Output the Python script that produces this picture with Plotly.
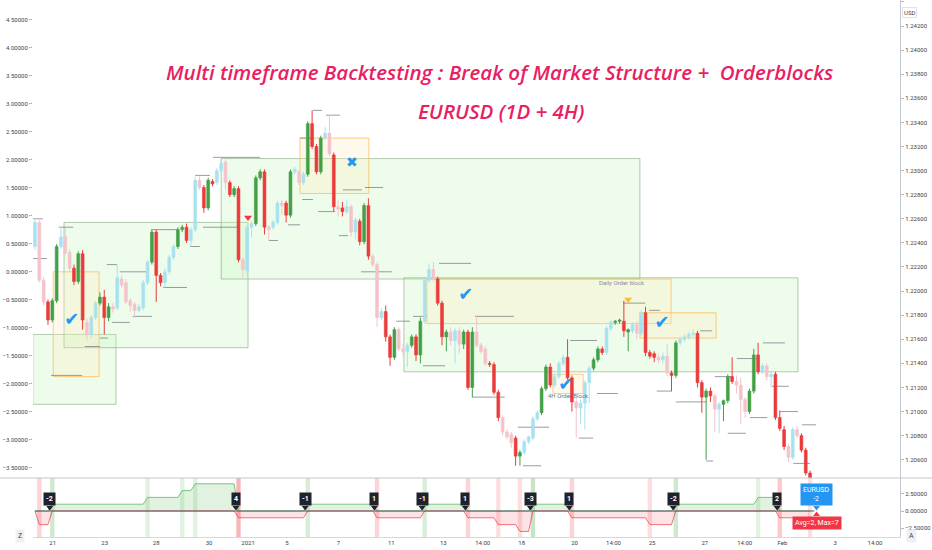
import plotly.graph_objects as go

# 4H EURUSD candles, bar index 0..179
opens = [
    1.2237, 1.2257, 1.2209, 1.2191, 1.2176, 1.2192, 1.2237, 1.2245, 1.2232, 1.2219,
    1.2208, 1.2231, 1.2174, 1.2164, 1.2178, 1.2190, 1.2195, 1.2178, 1.2187, 1.2186,
    1.2210, 1.2207, 1.2192, 1.2189, 1.2184, 1.2186, 1.2207, 1.2224, 1.2249, 1.2213,
    1.2207, 1.2216, 1.2228, 1.2237, 1.2251, 1.2253, 1.2242, 1.2251, 1.2292, 1.2286,
    1.2269, 1.2291, 1.2290, 1.2300, 1.2307, 1.2290, 1.2280, 1.2285, 1.2226, 1.2217,
    1.2253, 1.2256, 1.2294, 1.2299, 1.2253, 1.2253, 1.2257, 1.2273, 1.2273, 1.2263,
    1.2299, 1.2299, 1.2290, 1.2297, 1.2339, 1.2320, 1.2299, 1.2327, 1.2331, 1.2313,
    1.2270, 1.2269, 1.2266, 1.2270, 1.2249, 1.2258, 1.2241, 1.2271, 1.2229, 1.2222,
    1.2178, 1.2183, 1.2162, 1.2145, 1.2168, 1.2152, 1.2150, 1.2155, 1.2162, 1.2147,
    1.2175, 1.2209, 1.2218, 1.2210, 1.2190, 1.2162, 1.2166, 1.2159, 1.2167, 1.2156,
    1.2166, 1.2120, 1.2166, 1.2155, 1.2152, 1.2140, 1.2139, 1.2116, 1.2095, 1.2083,
    1.2081, 1.2078, 1.2063, 1.2066, 1.2075, 1.2078, 1.2094, 1.2099, 1.2119, 1.2137,
    1.2122, 1.2129, 1.2140, 1.2145, 1.2128, 1.2108, 1.2103, 1.2107, 1.2124, 1.2136,
    1.2143, 1.2152, 1.2149, 1.2169, 1.2174, 1.2175, 1.2175, 1.2166, 1.2167, 1.2172,
    1.2165, 1.2182, 1.2149, 1.2148, 1.2145, 1.2143, 1.2146, 1.2132, 1.2130, 1.2157,
    1.2160, 1.2162, 1.2164, 1.2165, 1.2124, 1.2112, 1.2117, 1.2113, 1.2102, 1.2106,
    1.2109, 1.2129, 1.2125, 1.2122, 1.2110, 1.2100, 1.2117, 1.2147, 1.2133, 1.2138,
    1.2129, 1.2131, 1.2095, 1.2085, 1.2071, 1.2062, 1.2085, 1.2080, 1.2068, 1.2049,
]
highs = [
    1.2259, 1.2259, 1.2212, 1.2193, 1.2194, 1.2239, 1.2253, 1.2252, 1.2235, 1.2222,
    1.2233, 1.2234, 1.2177, 1.2180, 1.2192, 1.2199, 1.2201, 1.2190, 1.2190, 1.2222,
    1.2213, 1.2210, 1.2194, 1.2191, 1.2189, 1.2209, 1.2226, 1.2251, 1.2251, 1.2215,
    1.2219, 1.2230, 1.2239, 1.2253, 1.2255, 1.2256, 1.2253, 1.2295, 1.2295, 1.2288,
    1.2294, 1.2293, 1.2302, 1.2310, 1.2309, 1.2292, 1.2287, 1.2287, 1.2228, 1.2255,
    1.2258, 1.2296, 1.2301, 1.2301, 1.2255, 1.2259, 1.2275, 1.2276, 1.2275, 1.2301,
    1.2303, 1.2301, 1.2299, 1.2341, 1.2350, 1.2322, 1.2329, 1.2336, 1.2346, 1.2315,
    1.2276, 1.2274, 1.2276, 1.2272, 1.2261, 1.2260, 1.2273, 1.2277, 1.2231, 1.2224,
    1.2186, 1.2188, 1.2164, 1.2170, 1.2170, 1.2156, 1.2157, 1.2164, 1.2164, 1.2178,
    1.2211, 1.2223, 1.2224, 1.2212, 1.2192, 1.2168, 1.2170, 1.2169, 1.2170, 1.2168,
    1.2168, 1.2170, 1.2180, 1.2157, 1.2154, 1.2142, 1.2141, 1.2118, 1.2097, 1.2085,
    1.2083, 1.2080, 1.2068, 1.2077, 1.2080, 1.2096, 1.2101, 1.2121, 1.2139, 1.2140,
    1.2131, 1.2142, 1.2147, 1.2160, 1.2130, 1.2111, 1.2110, 1.2126, 1.2138, 1.2145,
    1.2154, 1.2154, 1.2171, 1.2176, 1.2176, 1.2177, 1.2192, 1.2169, 1.2174, 1.2175,
    1.2184, 1.2187, 1.2151, 1.2150, 1.2148, 1.2149, 1.2156, 1.2134, 1.2159, 1.2162,
    1.2164, 1.2166, 1.2168, 1.2167, 1.2126, 1.2119, 1.2120, 1.2115, 1.2108, 1.2110,
    1.2131, 1.2145, 1.2130, 1.2128, 1.2112, 1.2119, 1.2152, 1.2157, 1.2140, 1.2140,
    1.2133, 1.2133, 1.2101, 1.2088, 1.2073, 1.2087, 1.2088, 1.2082, 1.2070, 1.2051,
]
lows = [
    1.2234, 1.2207, 1.2188, 1.2172, 1.2174, 1.2190, 1.2235, 1.2230, 1.2216, 1.2205,
    1.2206, 1.2168, 1.2159, 1.2161, 1.2176, 1.2188, 1.2164, 1.2175, 1.2182, 1.2184,
    1.2203, 1.2189, 1.2183, 1.2178, 1.2182, 1.2184, 1.2205, 1.2222, 1.2191, 1.2204,
    1.2203, 1.2214, 1.2226, 1.2235, 1.2249, 1.2240, 1.2237, 1.2249, 1.2284, 1.2265,
    1.2267, 1.2287, 1.2288, 1.2298, 1.2284, 1.2278, 1.2278, 1.2224, 1.2211, 1.2212,
    1.2245, 1.2254, 1.2292, 1.2247, 1.2242, 1.2251, 1.2255, 1.2263, 1.2257, 1.2261,
    1.2297, 1.2288, 1.2288, 1.2295, 1.2318, 1.2297, 1.2297, 1.2325, 1.2312, 1.2266,
    1.2262, 1.2262, 1.2264, 1.2245, 1.2243, 1.2238, 1.2239, 1.2226, 1.2220, 1.2170,
    1.2176, 1.2158, 1.2138, 1.2143, 1.2150, 1.2146, 1.2137, 1.2153, 1.2142, 1.2140,
    1.2173, 1.2207, 1.2208, 1.2188, 1.2155, 1.2150, 1.2155, 1.2140, 1.2148, 1.2152,
    1.2118, 1.2112, 1.2153, 1.2148, 1.2138, 1.2137, 1.2114, 1.2092, 1.2080, 1.2077,
    1.2070, 1.2055, 1.2055, 1.2064, 1.2073, 1.2076, 1.2092, 1.2097, 1.2117, 1.2120,
    1.2120, 1.2127, 1.2138, 1.2126, 1.2100, 1.2078, 1.2090, 1.2085, 1.2107, 1.2134,
    1.2141, 1.2147, 1.2147, 1.2167, 1.2172, 1.2173, 1.2162, 1.2150, 1.2165, 1.2160,
    1.2163, 1.2146, 1.2144, 1.2141, 1.2140, 1.2140, 1.2129, 1.2117, 1.2128, 1.2155,
    1.2158, 1.2160, 1.2162, 1.2120, 1.2099, 1.2060, 1.2108, 1.2083, 1.2082, 1.2092,
    1.2107, 1.2123, 1.2115, 1.2090, 1.2095, 1.2098, 1.2115, 1.2131, 1.2131, 1.2126,
    1.2120, 1.2093, 1.2084, 1.2068, 1.2058, 1.2060, 1.2078, 1.2066, 1.2047, 1.2042,
]
closes = [
    1.2257, 1.2209, 1.2191, 1.2176, 1.2192, 1.2237, 1.2245, 1.2232, 1.2219, 1.2208,
    1.2231, 1.2176, 1.2164, 1.2178, 1.2190, 1.2195, 1.2178, 1.2187, 1.2185, 1.2211,
    1.2205, 1.2191, 1.2188, 1.2184, 1.2187, 1.2207, 1.2224, 1.2249, 1.2213, 1.2207,
    1.2216, 1.2228, 1.2237, 1.2251, 1.2253, 1.2242, 1.2251, 1.2292, 1.2286, 1.2269,
    1.2292, 1.2289, 1.2300, 1.2306, 1.2290, 1.2280, 1.2285, 1.2226, 1.2218, 1.2253,
    1.2256, 1.2294, 1.2299, 1.2253, 1.2251, 1.2257, 1.2273, 1.2271, 1.2263, 1.2299,
    1.2301, 1.2290, 1.2297, 1.2339, 1.2320, 1.2299, 1.2327, 1.2331, 1.2314, 1.2270,
    1.2268, 1.2266, 1.2270, 1.2249, 1.2259, 1.2241, 1.2271, 1.2229, 1.2222, 1.2178,
    1.2183, 1.2162, 1.2145, 1.2168, 1.2152, 1.2150, 1.2155, 1.2162, 1.2147, 1.2175,
    1.2209, 1.2218, 1.2210, 1.2190, 1.2162, 1.2166, 1.2159, 1.2167, 1.2156, 1.2166,
    1.2120, 1.2166, 1.2155, 1.2150, 1.2140, 1.2139, 1.2116, 1.2095, 1.2083, 1.2079,
    1.2074, 1.2063, 1.2066, 1.2075, 1.2079, 1.2094, 1.2099, 1.2119, 1.2137, 1.2122,
    1.2129, 1.2140, 1.2145, 1.2128, 1.2108, 1.2103, 1.2107, 1.2124, 1.2136, 1.2143,
    1.2152, 1.2149, 1.2169, 1.2174, 1.2175, 1.2176, 1.2167, 1.2168, 1.2172, 1.2165,
    1.2182, 1.2149, 1.2146, 1.2145, 1.2143, 1.2146, 1.2132, 1.2130, 1.2157, 1.2160,
    1.2162, 1.2164, 1.2165, 1.2124, 1.2112, 1.2117, 1.2113, 1.2102, 1.2106, 1.2109,
    1.2129, 1.2125, 1.2122, 1.2110, 1.2100, 1.2117, 1.2147, 1.2133, 1.2138, 1.2129,
    1.2131, 1.2095, 1.2086, 1.2071, 1.2062, 1.2085, 1.2080, 1.2068, 1.2049, 1.2045,
]
# S = strong (trend) candle, W = weak candle
strength = list(
    "WWWSSSWWWS" "SSWWWSSSWW" "WWWWWWWSSS" "WWWSSSWWWS" "SSWWWSSSWW"
    "WSSSWWWWSS" "WWWSSSSWWS" "WSWWWSSSWW" "WSSSWWWSSS" "WWWSSSWWWS"
    "SSWWWSSSWW" "WSSWWWWSSS" "WWWSSWWWWS" "SSWWSSSSWW" "WSSSWWWSSW"
    "WWWSSSSWWS" "SSWWWSSSWW" "WSSSWWWSSS"
)

# market structure count (value, number of bars)
structure_runs = [
    (0, 1), (-2, 3), (1, 22), (2, 8), (3, 3), (4, 10), (-1, 16), (1, 16), (-1, 11),
    (1, 10), (-1, 7), (-2, 5), (-3, 3), (1, 9), (-1, 18), (-2, 6), (1, 19), (2, 5),
    (-1, 7), (-2, 1),
]

# order blocks: (first bar, last bar, top, bottom)
green_blocks = [
    (-0.5, 18.7, 1.2164, 1.2106),
    (6.7, 49.2, 1.2257, 1.2153),
    (43.0, 139.7, 1.2310, 1.2210),
    (85.2, 176.2, 1.2211, 1.2133),
]
orange_blocks = [
    (4.2, 14.8, 1.2216, 1.2129),
    (61.2, 77.1, 1.2327, 1.2281),
    (90.5, 146.9, 1.2210, 1.2173),
    (139.7, 157.3, 1.2182, 1.2161),
    (119.6, 126.6, 1.2131, 1.2115),
]

# swing levels: (first bar, last bar, price)
swing_levels = [
    (-0.5, 1.8, 1.2260), (-0.5, 2.8, 1.2227), (5.5, 8.8, 1.2253), (3.7, 10.9, 1.2130),
    (11.5, 15.0, 1.2154), (15.0, 16.9, 1.2161), (16.6, 18.9, 1.2222), (19.6, 25.9, 1.2216),
    (17.8, 21.9, 1.2174), (22.6, 27.0, 1.2179), (26.8, 32.8, 1.2251), (29.6, 35.1, 1.2203),
    (35.8, 38.1, 1.2237), (37.0, 40.4, 1.2296), (38.8, 46.7, 1.2253), (41.1, 52.0, 1.2311),
    (54.0, 56.1, 1.2242), (58.4, 61.2, 1.2255), (65.4, 69.3, 1.2266), (64.2, 66.3, 1.2350),
    (67.2, 70.4, 1.2346), (61.2, 64.0, 1.2327), (61.7, 64.2, 1.2276), (71.1, 75.5, 1.2284),
    (76.2, 80.4, 1.2286), (70.2, 72.3, 1.2246), (75.3, 82.4, 1.2216), (83.4, 86.6, 1.2175),
    (87.3, 90.5, 1.2179), (89.6, 94.7, 1.2138), (93.3, 100.7, 1.2223), (101.6, 110.6, 1.2179),
    (100.9, 108.5, 1.2112), (111.5, 118.7, 1.2087), (112.7, 116.9, 1.2055), (123.6, 129.8, 1.2159),
    (125.6, 128.9, 1.2078), (129.8, 134.6, 1.2115), (135.8, 140.9, 1.2190), (141.8, 144.3, 1.2184),
    (143.6, 147.1, 1.2117), (148.0, 155.2, 1.2108), (153.6, 156.4, 1.2167), (157.0, 161.2, 1.2129),
    (162.1, 166.7, 1.2144), (168.1, 173.2, 1.2157), (160.0, 164.2, 1.2082), (165.1, 169.1, 1.2095),
    (170.2, 174.1, 1.2121), (172.1, 176.2, 1.2100), (177.1, 180.4, 1.2089), (175.1, 179.0, 1.2057),
    (155.0, 156.6, 1.2059),
]

win_bars = [8.5, 99.5, 122.6, 144.8]
win_prices = [1.2176, 1.2196, 1.2122, 1.2173]
loss_bars = [73.2]
loss_prices = [1.2306]

tick_bars = [4.1, 16.1, 28.0, 40.2, 49.2, 58.2, 70.1, 82.3, 94.3, 103.4,
             112.4, 124.6, 133.6, 142.5, 154.7, 163.9, 172.6, 184.8, 194.0]
tick_text = ["21", "23", "28", "30", "2021", "5", "7", "11", "13", "14:00",
             "18", "20", "14:00", "25", "27", "14:00", "Feb", "3", "14:00"]
price_ticks = [1.206, 1.208, 1.210, 1.212, 1.214, 1.216, 1.218, 1.220, 1.222, 1.224,
               1.226, 1.228, 1.230, 1.232, 1.234, 1.236, 1.238, 1.240, 1.242, 1.244]
left_ticks = [-3.5, -3.0, -2.5, -2.0, -1.5, -1.0, -0.5, 0.0, 0.5, 1.0,
              1.5, 2.0, 2.5, 3.0, 3.5, 4.0, 4.5]

N = len(closes)
bars = list(range(N))
structure = []
for value, count in structure_runs:
    structure += [value] * count

AXIS_FONT = dict(family="Roboto", size=6, color="#3c3f48")
fig = go.Figure()

# candles: bodies as bars, wicks as lines
colours = {
    ("S", True): "#43A047",
    ("S", False): "#EB3B3B",
    ("W", True): "#A8E2EE",
    ("W", False): "#F4C3CB",
}
for (kind, rising), colour in colours.items():
    idx = [i for i in bars if strength[i] == kind and (closes[i] >= opens[i]) == rising]
    wx, wy = [], []
    for i in idx:
        wx += [i, i, None]
        wy += [lows[i], highs[i], None]
    fig.add_scatter(x=wx, y=wy, mode="lines", line=dict(color=colour, width=1),
                    hoverinfo="skip", showlegend=False)
    fig.add_bar(x=idx, y=[closes[i] - opens[i] for i in idx], base=[opens[i] for i in idx],
                width=0.66, marker=dict(color=colour, line=dict(color=colour, width=0.6)),
                showlegend=False)

# left overlay scale (indicator on price pane)
fig.add_scatter(x=[0], y=[0], yaxis="y2", mode="markers", marker=dict(opacity=0),
                hoverinfo="skip", showlegend=False)

for x0, x1, top, bottom in green_blocks:
    fig.add_shape(type="rect", xref="x", yref="y", x0=x0, x1=x1, y0=bottom, y1=top,
                  fillcolor="rgba(200,244,190,0.3)",
                  line=dict(color="rgba(128,168,124,0.6)", width=1), layer="below")
for x0, x1, top, bottom in orange_blocks:
    fig.add_shape(type="rect", xref="x", yref="y", x0=x0, x1=x1, y0=bottom, y1=top,
                  fillcolor="rgba(255,232,190,0.28)",
                  line=dict(color="rgba(255,183,77,0.7)", width=1), layer="below")
for x0, x1, level in swing_levels:
    fig.add_shape(type="line", xref="x", yref="y", x0=x0, x1=x1, y0=level, y1=level,
                  line=dict(color="rgba(110,114,125,0.7)", width=1), layer="below")

fig.add_scatter(x=win_bars, y=win_prices, mode="text", text=["✔"] * len(win_bars),
                textfont=dict(family="DejaVu Sans", size=18, color="#2196F3"),
                hoverinfo="skip", showlegend=False)
fig.add_scatter(x=loss_bars, y=loss_prices, mode="text", text=["✖"] * len(loss_bars),
                textfont=dict(family="DejaVu Sans", size=14, color="#2196F3"),
                hoverinfo="skip", showlegend=False)
fig.add_scatter(x=[49.2], y=[1.2261], mode="markers",
                marker=dict(symbol="triangle-down", size=7, color="#F23645"),
                hoverinfo="skip", showlegend=False)
fig.add_scatter(x=[137.0], y=[1.2193], mode="markers",
                marker=dict(symbol="triangle-down", size=7, color="#FBC02D"),
                hoverinfo="skip", showlegend=False)
fig.add_annotation(x=135.6, y=1.2207, text="Daily Order block", showarrow=False,
                   font=dict(family="Roboto", size=6, color="#8a8d96"))
fig.add_annotation(x=123.1, y=1.2113, text="4H Order Block", showarrow=False,
                   font=dict(family="Roboto", size=6, color="#6f727b"))

# lower pane: structure count, event bands shaded by size of the change
changes = [i for i in bars[1:] if structure[i] != structure[i - 1]]
for i in changes:
    step = structure[i] - structure[i - 1]
    alpha = min(0.12 + 0.05 * abs(step), 0.4)
    colour = f"rgba(76,175,80,{alpha:.2f})" if step > 0 else f"rgba(242,54,69,{alpha:.2f})"
    fig.add_shape(type="rect", xref="x2", yref="y3 domain", x0=i - 0.5, x1=i + 0.5, y0=0, y1=1,
                  fillcolor=colour, line=dict(width=0), layer="below")

fig.add_scatter(x=bars, y=[max(v, 0) for v in structure], xaxis="x2", yaxis="y3",
                mode="lines", line=dict(color="rgba(76,175,80,0.7)", width=1),
                fill="tozeroy", fillcolor="rgba(76,175,80,0.17)",
                hoverinfo="skip", showlegend=False)
fig.add_scatter(x=bars, y=[min(v, 0) for v in structure], xaxis="x2", yaxis="y3",
                mode="lines", line=dict(color="rgba(242,54,69,0.7)", width=1),
                fill="tozeroy", fillcolor="rgba(242,54,69,0.14)",
                hoverinfo="skip", showlegend=False)
fig.add_scatter(x=[bars[0], bars[-1] + 1], y=[0, 0], xaxis="x2", yaxis="y3", mode="lines",
                line=dict(color="#55585f", width=1), hoverinfo="skip", showlegend=False)

flips = [i for i in changes if structure[i - 1] != 0 and (structure[i] > 0) != (structure[i - 1] > 0)]
fig.add_scatter(x=[i - 0.6 for i in flips], y=[0.5] * len(flips), xaxis="x2", yaxis="y3",
                mode="markers", marker=dict(symbol="triangle-down", size=6, color="#1F222B"),
                hoverinfo="skip", showlegend=False)
for i in flips:
    fig.add_annotation(xref="x2", yref="y3", x=i - 0.6, y=0, yanchor="bottom", yshift=5,
                       text=f"<b>{structure[i - 1]}</b>", showarrow=False, bgcolor="#1F222B",
                       borderpad=2, font=dict(family="Roboto", size=7, color="white"))

last_x = bars[-1] + 1.5
fig.add_scatter(x=[last_x, last_x], y=[0.5, -0.5], xaxis="x2", yaxis="y3", mode="markers",
                marker=dict(symbol=["triangle-down", "triangle-up"], size=6,
                            color=["#2196F3", "#F23645"]),
                hoverinfo="skip", showlegend=False)
fig.add_annotation(xref="x2", yref="y3", x=last_x, y=0, yanchor="bottom", yshift=5,
                   text=f"EURUSD<br>{structure[-1]}", showarrow=False, bgcolor="#2196F3",
                   borderpad=2, font=dict(family="Roboto", size=7, color="white"))
fig.add_annotation(xref="x2", yref="y3", x=last_x, y=0, yanchor="top", yshift=-5,
                   text="Avg=2, Max=7", showarrow=False, bgcolor="#F23645",
                   borderpad=2, font=dict(family="Roboto", size=7, color="white"))

# titles
TITLE_FONT = dict(family="Open Sans", size=20.5, color="#E91E63", style="italic", weight=600)
fig.add_annotation(xref="paper", yref="paper", x=0.5375, y=0.8957, showarrow=False,
                   text="Multi timeframe Backtesting : Break of Market Structure +\u00a0 Orderblocks",
                   font=TITLE_FONT)
fig.add_annotation(xref="paper", yref="paper", x=0.5398, y=0.8231, showarrow=False,
                   text="EURUSD (1D + 4H)", font=TITLE_FONT)

# chrome
split = 59 / 537
fig.add_shape(type="line", xref="paper", yref="paper", x0=-0.04, x1=1.04, y0=split, y1=split,
              line=dict(color="#c4c7cf", width=1))
fig.add_annotation(xref="paper", yref="paper", x=1.0196, y=0.987, text="USD", showarrow=False,
                   bgcolor="white", bordercolor="#e0e3eb", borderwidth=1, borderpad=1,
                   font=dict(family="Roboto", size=6, color="#3c3f48"))
for px, label in [(-0.0208, "Z"), (1.0196, "A")]:
    fig.add_annotation(xref="paper", yref="paper", x=px, y=-0.0115, text=label, showarrow=False,
                       bgcolor="#eef0f4", borderpad=2, font=dict(family="Roboto", size=7, color="#3c3f48"))

fig.update_layout(
    width=932, height=550,
    margin=dict(l=33, r=32, t=0, b=13, autoexpand=False),
    paper_bgcolor="white", plot_bgcolor="white",
    barmode="overlay", showlegend=False,
    xaxis=dict(range=[-0.46, 199.77], anchor="y", showticklabels=False, showgrid=False,
               zeroline=False, showline=False, automargin=False),
    xaxis2=dict(matches="x", anchor="y3", tickvals=tick_bars, ticktext=tick_text,
                showgrid=False, zeroline=False, showline=True, linecolor="#d6d8de",
                ticks="", tickfont=AXIS_FONT, automargin=False),
    yaxis=dict(domain=[split, 1], side="right", anchor="x", range=[1.204486, 1.24416],
               tickvals=price_ticks, tickformat=".5f", ticks="outside", ticklen=3,
               tickcolor="#b5b8c0", showgrid=False, zeroline=False, showline=True,
               linecolor="#c4c7cf", tickfont=AXIS_FONT, automargin=False),
    yaxis2=dict(overlaying="y", side="left", anchor="x", range=[-3.68, 4.857],
                tickvals=left_ticks, tickformat=".5f", ticks="outside", ticklen=3,
                tickcolor="#b5b8c0", showgrid=False, zeroline=False, showline=False,
                tickfont=AXIS_FONT, automargin=False),
    yaxis3=dict(domain=[0, split], side="right", anchor="x2", range=[-3.82, 4.85],
                tickvals=[-2.5, 0, 2.5], tickformat=".5f", ticks="outside", ticklen=3,
                tickcolor="#b5b8c0", showgrid=False, zeroline=False, showline=True,
                linecolor="#c4c7cf", tickfont=AXIS_FONT, automargin=False),
)

fig.write_html("out.html", config={"displayModeBar": False},
               post_script="document.body.style.margin='0';document.body.style.overflow='hidden';")
